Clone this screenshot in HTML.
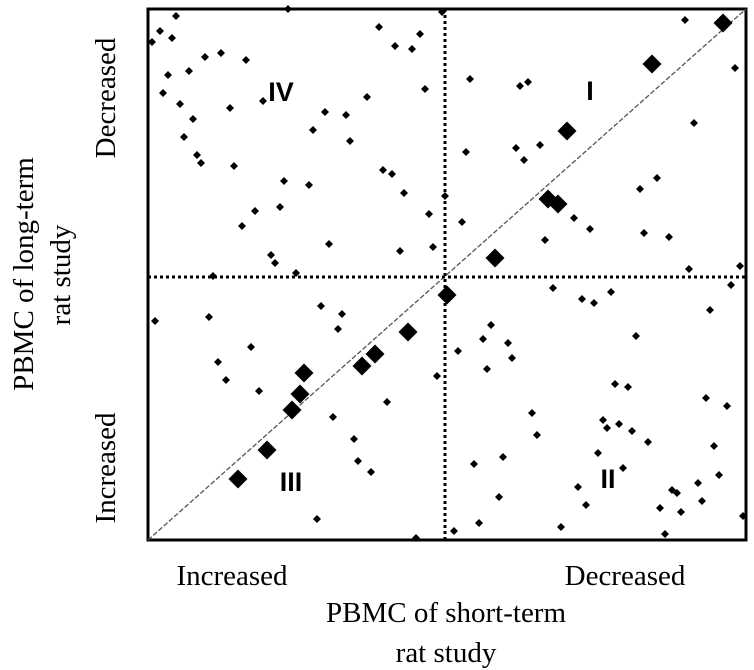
<!DOCTYPE html>
<html><head><meta charset="utf-8"><style>
html,body{margin:0;padding:0;background:#fff;width:754px;height:670px;overflow:hidden}
svg{display:block}
.ser{font-family:"Liberation Serif",serif;font-size:29px;fill:#000}
.rom{font-family:"Liberation Sans",sans-serif;font-weight:bold;font-size:27px;fill:#000}
</style></head><body>
<svg id="chart" width="754" height="670" viewBox="0 0 754 670" xmlns="http://www.w3.org/2000/svg">
<rect x="148" y="9" width="598" height="531" fill="none" stroke="#000" stroke-width="3"/>
<line x1="148" y1="540" x2="746" y2="9" stroke="#555" stroke-width="1.3" stroke-dasharray="5 2"/>
<line x1="445" y1="9" x2="445" y2="540" stroke="#000" stroke-width="3" stroke-dasharray="3 3"/>
<line x1="148" y1="277" x2="746" y2="277" stroke="#000" stroke-width="3" stroke-dasharray="3 3"/>
<g id="marks"></g>
<text class="rom" x="281" y="101" text-anchor="middle">IV</text>
<text class="rom" x="590" y="100" text-anchor="middle">I</text>
<text class="rom" x="291" y="491" text-anchor="middle">III</text>
<text class="rom" x="608" y="488" text-anchor="middle">II</text>
<text class="ser" x="232" y="585" text-anchor="middle">Increased</text>
<text class="ser" x="625" y="585" text-anchor="middle">Decreased</text>
<text class="ser" x="446" y="622" text-anchor="middle">PBMC of short-term</text>
<text class="ser" x="446" y="662" text-anchor="middle">rat study</text>
<text class="ser" transform="translate(115,98) rotate(-90)" text-anchor="middle">Decreased</text>
<text class="ser" transform="translate(115,468) rotate(-90)" text-anchor="middle">Increased</text>
<text class="ser" transform="translate(33,274) rotate(-90)" text-anchor="middle">PBMC of  long-term</text>
<text class="ser" transform="translate(70,275) rotate(-90)" text-anchor="middle">rat study</text>
</svg>
<script>
const smallX=[140,28,12,24,4,231,272,247,264,294,57,73,98,41,20,15,32,82,115,277,219,177,198,45,165,202,36,49,53,86,235,244,256,136,161,297,107,132,281,94,181,285,252,123,127,65,148,
537,587,322,372,380,546,318,368,392,376,509,492,314,426,442,496,521,397,541,592,
7,61,173,194,190,103,70,78,111,289,239,185,206,210,223,169,268,
405,434,446,463,583,562,343,335,360,364,310,339,488,467,480,558,579,384,389,455,459,471,484,500,566,450,355,326,475,571,550,524,529,430,351,554,438,512,533,595,331,413,306,517];
const smallY=[531,524,509,502,498,513,506,494,491,528,483,487,480,469,465,447,436,432,439,451,443,428,425,421,410,399,403,385,377,374,370,366,347,359,355,344,329,333,326,314,296,293,289,285,277,264,267,
520,472,461,454,458,417,388,392,395,380,362,351,318,322,311,307,303,300,271,274,
219,223,234,226,211,193,178,160,149,164,138,123,101,79,68,21,2,
252,241,237,248,255,230,215,201,197,182,189,171,204,156,153,142,134,127,105,120,112,116,109,98,94,87,83,76,72,65,57,50,47,53,43,39,35,32,28,24,17,13,9,6];
const bigX=[575,504,419,400,410,347,299,260,227,214,156,152,144,119,90];
const bigY=[517,476,409,341,336,282,245,208,186,174,167,146,130,90,61];
const xDomain=[0,598], yDomain=[0,531];
function sx(v){return 148+(v-xDomain[0])/(xDomain[1]-xDomain[0])*598;}
function sy(v){return 540-(v-yDomain[0])/(yDomain[1]-yDomain[0])*531;}
const g=document.getElementById('marks');
function diamond(x,y,r,name){
  const p=document.createElementNS('http://www.w3.org/2000/svg','polygon');
  p.setAttribute('points',`${x},${y-r} ${x+r},${y} ${x},${y+r} ${x-r},${y}`);
  p.setAttribute('fill','#000');
  
  
  g.appendChild(p);
}
for(let i=0;i<smallX.length;i++){diamond(sx(smallX[i]),sy(smallY[i]),4,'small-point');}
for(let i=0;i<bigX.length;i++){diamond(sx(bigX[i]),sy(bigY[i]),9.5,'large-point');}
</script>
</body></html>
